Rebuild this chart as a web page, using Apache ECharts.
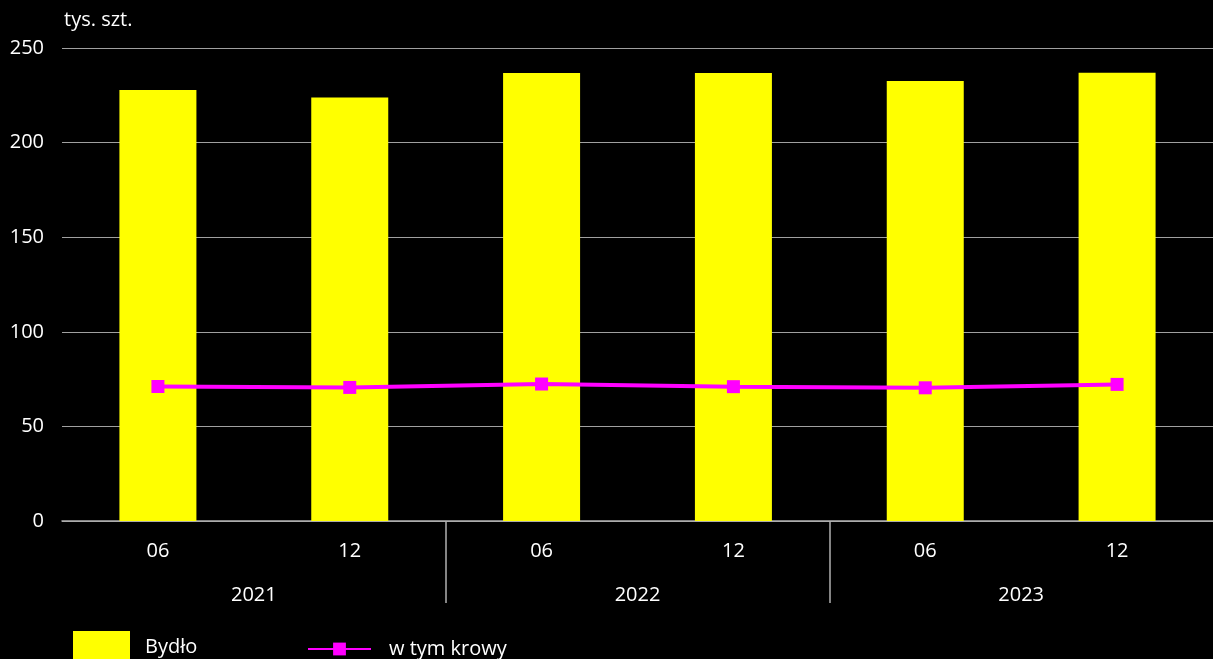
<!DOCTYPE html>
<html>
<head>
<meta charset="utf-8">
<script src="https://cdn.jsdelivr.net/npm/echarts@6/dist/echarts.min.js"></script>
<style>
html,body{margin:0;padding:0;background:#000;}
#c{width:1213px;height:659px;}
</style>
</head>
<body>
<div id="c"></div>
<script>
const months = ['06','12','06','12','06','12'];
const years = ['2021','2022','2023'];
const bydlo = [227.8, 223.9, 236.8, 236.8, 232.5, 236.9];
const krowy = [71.1, 70.6, 72.4, 71.0, 70.4, 72.2];
const unitLabel = 'tys. szt.';

const FONT = 'Open Sans';
const perYear = months.length / years.length;
const yearLabelPos = years.map((y, i) => i * perYear + perYear / 2);
const yearSepPos = years.slice(1).map((y, i) => (i + 1) * perYear);

const chart = echarts.init(document.getElementById('c'));
chart.setOption({
  backgroundColor: '#000',
  animation: false,
  textStyle: {fontFamily: FONT},
  grid: {left: 62, right: 0, top: 48, bottom: 138},
  legend: [
    {
      left: 73, top: 631, padding: 0, itemWidth: 57, itemHeight: 32,
      data: [{name: 'Bydło', icon: 'rect'}],
      textStyle: {color: '#fff', fontSize: 20, fontFamily: FONT, padding: [0,0,0,10]}
    },
    {
      left: 307, top: 639, padding: 0, itemWidth: 63, itemHeight: 16,
      data: ['w tym krowy'],
      textStyle: {color: '#fff', fontSize: 20, fontFamily: FONT, padding: [0,0,0,13]}
    }
  ],
  xAxis: [
    {
      type: 'category', data: months, position: 'bottom',
      axisLine: {lineStyle: {color: '#b0b0b0', width: 1.5}},
      axisTick: {show: false},
      axisLabel: {color: '#fff', fontSize: 20, margin: 20, fontFamily: FONT}
    },
    {
      type: 'value', min: 0, max: months.length, position: 'bottom', gridIndex: 0,
      axisLine: {show: false},
      splitLine: {show: false},
      axisTick: {show: true, length: 82, customValues: yearSepPos,
                 lineStyle: {color: '#b0b0b0', width: 1.5}},
      axisLabel: {color: '#fff', fontSize: 20, margin: 64, fontFamily: FONT,
                  customValues: yearLabelPos,
                  formatter: function (v) { return years[Math.floor(v / perYear)]; }}
    }
  ],
  yAxis: {
    type: 'value', min: 0, max: 250, interval: 50,
    name: unitLabel, nameLocation: 'end', nameGap: 18,
    nameTextStyle: {color: '#fff', fontSize: 20, align: 'left', padding: [0,0,0,2], fontFamily: FONT},
    axisLine: {show: false}, axisTick: {show: false},
    axisLabel: {color: '#fff', fontSize: 20, margin: 18, fontFamily: FONT},
    splitLine: {lineStyle: {color: '#a0a0a0', width: 1.2}}
  },
  series: [
    {
      name: 'Bydło', type: 'bar', data: bydlo, xAxisIndex: 0,
      barWidth: 77,
      itemStyle: {color: '#ffff00'}
    },
    {
      name: 'w tym krowy', type: 'line', data: krowy, xAxisIndex: 0,
      symbol: 'rect', symbolSize: 13,
      lineStyle: {color: '#ff00ff', width: 4},
      itemStyle: {color: '#ff00ff'}
    }
  ]
});
</script>
</body>
</html>
